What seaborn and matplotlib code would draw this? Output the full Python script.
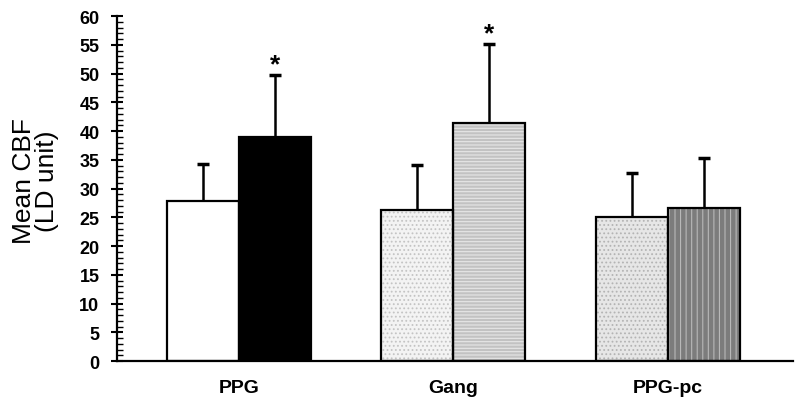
import numpy as np
import pandas as pd
import matplotlib
matplotlib.use("Agg")
import matplotlib.pyplot as plt
import seaborn as sns
from matplotlib.patches import Rectangle
from matplotlib.ticker import MultipleLocator

# values
groups = ["PPG", "Gang", "PPG-pc"]
conditions = ["before", "after"]
mean_before = [27.8, 26.3, 25.0]
mean_after = [39.0, 41.4, 26.6]
sd_before = [6.5, 7.8, 7.7]
sd_after = [10.7, 13.7, 8.7]
sig_before = [False, False, False]
sig_after = [True, True, False]

df = pd.DataFrame({
    "group": groups * 2,
    "condition": [conditions[0]] * 3 + [conditions[1]] * 3,
    "mean": mean_before + mean_after,
    "sd": sd_before + sd_after,
    "sig": sig_before + sig_after,
})

# (facecolor, hatch, hatch colour) for each bar, by condition then group
styles = {
    "before": [("white", "", "black"),
               ("#f3f3f3", "....", "#c4c4c4"),
               ("#e6e6e6", "....", "#b4b4b4")],
    "after": [("black", "", "black"),
              ("#c2c2c2", "-----", "#e6e6e6"),
              ("#7c7c7c", "|||", "#b8b8b8")],
}

sns.set_style("white")
plt.rcParams["font.family"] = ["Liberation Sans", "DejaVu Sans"]
plt.rcParams["hatch.linewidth"] = 0.8

fig = plt.figure(figsize=(8, 4.06), dpi=100)
ax = fig.add_axes([0.146, 0.108, 0.845, 0.85])

sns.barplot(data=df, x="group", y="mean", hue="condition", order=groups,
            hue_order=conditions, width=0.67, errorbar=None, legend=False,
            ax=ax)

for cond, cont in zip(conditions, ax.containers):
    sub = df[df["condition"] == cond].set_index("group").loc[groups]
    for bar, (fc, hatch, hc), m, s, sig in zip(cont, styles[cond],
                                               sub["mean"], sub["sd"], sub["sig"]):
        bar.set_facecolor(fc)
        bar.set_hatch(hatch)
        bar.set_edgecolor(hc)
        bar.set_linewidth(0)
        ax.add_patch(Rectangle(bar.get_xy(), bar.get_width(), bar.get_height(),
                               fill=False, edgecolor="black", linewidth=1.6,
                               zorder=bar.get_zorder() + 0.1))
        xc = bar.get_x() + bar.get_width() / 2
        eb = ax.errorbar(xc, m, yerr=[[0], [s]], color="black", elinewidth=1.8,
                         capsize=4.5, capthick=2.5, zorder=1)
        eb[1][0].set_visible(False)  # only the upper cap
        if sig:
            ax.annotate("*", (xc, m + s), xytext=(0, -1),
                        textcoords="offset points", ha="center", va="bottom",
                        fontsize=19, fontweight="bold", color="black")

ax.set_xlim(-0.569, 2.583)
ax.set_ylim(0, 60)
ax.yaxis.set_major_locator(MultipleLocator(5))
ax.yaxis.set_minor_locator(MultipleLocator(1))

sns.despine(ax=ax)
for sp in ["left", "bottom"]:
    ax.spines[sp].set_linewidth(1.6)
    ax.spines[sp].set_color("black")

ax.tick_params(axis="y", which="major", direction="inout", length=9,
               width=1.5, pad=8, labelsize=13, left=True, colors="black")
ax.tick_params(axis="y", which="minor", direction="in", length=4,
               width=1, left=True, colors="black")
ax.tick_params(axis="x", length=0, pad=13, labelsize=14, colors="black")
for lab in ax.get_xticklabels() + ax.get_yticklabels():
    lab.set_fontweight("bold")

ax.set_xlabel("")
ax.set_ylabel("Mean CBF\n(LD unit)", fontsize=19, linespacing=0.95,
              color="black")
ax.yaxis.set_label_coords(-0.085, 0.525)

fig.savefig("out.png", dpi=100)
